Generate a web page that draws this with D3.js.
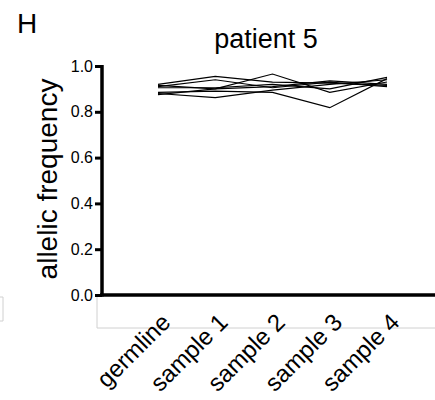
<!DOCTYPE html>
<html>
<head>
<meta charset="utf-8">
<script src="https://cdn.jsdelivr.net/npm/d3@7"></script>
<style>
  body { margin: 0; background: #fff; }
  text { font-family: "Liberation Sans", Arial, sans-serif; fill: #000; }
</style>
</head>
<body>
<div id="chart"></div>
<script>
var samples = ["germline", "sample 1", "sample 2", "sample 3", "sample 4"];
var yTicks = [0.0, 0.2, 0.4, 0.6, 0.8, 1.0];

// one array per variant, allelic frequency across the samples
var variant1 = [0.920, 0.955, 0.930, 0.925, 0.915];
var variant2 = [0.875, 0.900, 0.965, 0.885, 0.930];
var variant3 = [0.880, 0.862, 0.895, 0.920, 0.940];
var variant4 = [0.885, 0.890, 0.885, 0.818, 0.945];
var variant5 = [0.910, 0.940, 0.905, 0.930, 0.910];
var variant6 = [0.905, 0.905, 0.920, 0.900, 0.950];
var variant7 = [0.915, 0.900, 0.910, 0.935, 0.920];
var variants = [variant1, variant2, variant3, variant4, variant5, variant6, variant7];

var width = 435,
    height = 400;

var svg = d3.select("#chart")
    .append("svg")
    .attr("width", width)
    .attr("height", height);

var x = d3.scalePoint()
    .domain(samples)
    .range([158, 387]);

var y = d3.scaleLinear()
    .domain([0, 1])
    .range([295, 66]);

// faint box edges left over from the figure panel
svg.append("path")
    .attr("d", "M97,296V328H435")
    .attr("fill", "none")
    .attr("stroke", "#d0d0d0")
    .attr("stroke-width", 1);
svg.append("path")
    .attr("d", "M0,297H3V321H0")
    .attr("fill", "none")
    .attr("stroke", "#d0d0d0")
    .attr("stroke-width", 1);

/* ------- LINES -------*/
var line = d3.line()
    .x(function (d, i) { return x(samples[i]); })
    .y(function (d) { return y(d); });

svg.append("g")
    .selectAll("path")
    .data(variants)
    .enter()
    .append("path")
    .attr("d", line)
    .attr("fill", "none")
    .attr("stroke", "#000")
    .attr("stroke-width", 1.2);

/* ------- AXES -------*/
var yAxis = svg.append("g")
    .attr("transform", "translate(102,0)")
    .call(d3.axisLeft(y).tickValues(yTicks).tickFormat(d3.format(".1f")).tickSize(7).tickPadding(2));

yAxis.select(".domain").attr("stroke-width", 3.5).attr("d", "M0," + (y(1) - 1) + "V" + (y(0) + 1.5));
yAxis.selectAll(".tick line").attr("stroke-width", 3);
yAxis.selectAll(".tick text").style("font-size", "16px");

svg.append("line")
    .attr("x1", 100)
    .attr("x2", width)
    .attr("y1", y(0))
    .attr("y2", y(0))
    .attr("stroke", "#000")
    .attr("stroke-width", 3.5);

svg.append("g")
    .selectAll("text")
    .data(samples)
    .enter()
    .append("text")
    .attr("transform", function (d) { return "translate(" + (x(d) + 2) + ",312) rotate(-45)"; })
    .attr("text-anchor", "end")
    .attr("dy", "0.7em")
    .style("font-size", "24px")
    .text(function (d) { return d; });

/* ------- LABELS -------*/
svg.append("text")
    .attr("x", 17)
    .attr("y", 33)
    .style("font-size", "28px")
    .text("H");

svg.append("text")
    .attr("x", 266)
    .attr("y", 48)
    .attr("text-anchor", "middle")
    .style("font-size", "27px")
    .text("patient 5");

svg.append("text")
    .attr("transform", "translate(57,179) rotate(-90)")
    .attr("text-anchor", "middle")
    .style("font-size", "28px")
    .text("allelic frequency");
</script>
</body>
</html>
